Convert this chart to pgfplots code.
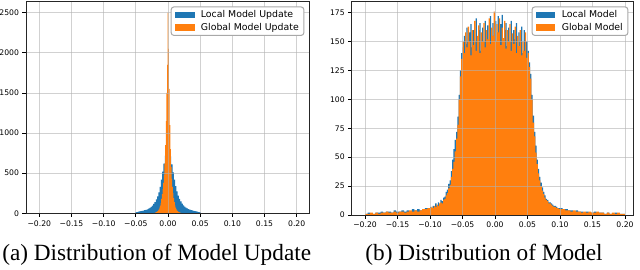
\documentclass[border=0pt]{standalone}
\usepackage{fontspec}
\setmainfont{Liberation Serif}
\setsansfont{DejaVu Sans}
\usepackage{pgfplots}
\pgfplotsset{compat=1.18}
\definecolor{tabblue}{HTML}{1F77B4}
\definecolor{taborange}{HTML}{FF7F0E}
\definecolor{legedge}{HTML}{A8A8A8}
\pgfplotsset{
  histstyle/.style={
    scale only axis,
    axis on top,
    ymin=0,
    xtick={-0.2,-0.15,-0.1,-0.05,0,0.05,0.1,0.15,0.2},
    xticklabels={−0.20,−0.15,−0.10,−0.05,0.00,0.05,0.10,0.15,0.20},
    tick align=outside,
    xtick pos=bottom, ytick pos=left,
    major tick length=3.5bp,
    tick style={black, line width=0.8bp},
    axis line style={black!85, line width=0.8bp},
    ticklabel style={font=\sffamily\fontsize{7.7}{9}\selectfont, text=black},
    grid=major,
    major grid style={black!30, opacity=0.6, line width=0.8bp},
    legend cell align=left,
    legend image code/.code={\fill[##1, sharp corners] (0bp,-3.2bp) rectangle (19.3bp,3.2bp);},
    legend style={at={(1,1)}, anchor=north east, xshift=-5bp, yshift=-5.5bp,
      draw=legedge, line width=1bp, rounded corners=2.5bp, fill=white,
      font=\sffamily\fontsize{9.4}{11}\selectfont, inner xsep=4bp, inner ysep=2.7bp,
      row sep=1.7bp, nodes={inner sep=1bp},
      /tikz/every odd column/.append style={column sep=5.4bp}},
  },
  bluehist/.style={const plot, draw=none, fill=tabblue},
  orangehist/.style={const plot, draw=none, fill=taborange},
}
\begin{document}
\begin{tikzpicture}
\useasboundingbox (0bp,0bp) rectangle (640bp,270bp);
% ---------------- (a) ----------------
\begin{axis}[histstyle,
  at={(26bp,56.7bp)}, anchor=south west,
  width=283.3bp, height=212.3bp,
  xmin=-0.2207, xmax=0.2196, ymax=2646,
  ytick={0,500,1000,1500,2000,2500},
  yticklabels={0,500,1000,1500,2000,2500},
]
\addplot[bluehist] coordinates {
(-0.053,2) (-0.051,10) (-0.049,15) (-0.047,20) (-0.045,23) (-0.043,28) (-0.041,30) (-0.039,33)
(-0.037,39) (-0.035,44) (-0.033,50) (-0.031,57) (-0.029,68) (-0.027,80) (-0.025,96) (-0.023,116)
(-0.021,140) (-0.019,172) (-0.017,210) (-0.015,262) (-0.013,330) (-0.011,420) (-0.009,520) (-0.007,620)
(-0.005,720) (-0.003,800) (-0.001,840) (0.001,790) (0.003,710) (0.005,610) (0.007,510) (0.009,420)
(0.011,340) (0.013,272) (0.015,220) (0.017,180) (0.019,148) (0.021,122) (0.023,100) (0.025,84)
(0.027,72) (0.029,62) (0.031,53) (0.033,46) (0.035,40) (0.037,35) (0.039,31) (0.041,27)
(0.043,24) (0.045,20) (0.047,16) (0.049,10) (0.051,2) (0.053,2)
} \closedcycle;
\addlegendentry{Local Model Update}
\addplot[orangehist] coordinates {
(-0.0205,7) (-0.0195,10) (-0.0185,14) (-0.0175,20) (-0.0165,28) (-0.0155,38) (-0.0145,50) (-0.0135,70)
(-0.0125,95) (-0.0115,130) (-0.0105,180) (-0.0095,240) (-0.0085,300) (-0.0075,380) (-0.0065,480) (-0.0055,620)
(-0.0045,850) (-0.0035,1150) (-0.0025,1500) (-0.0015,1850) (-0.0005,2500) (0.0005,2050) (0.0015,1550) (0.0025,1100)
(0.0035,800) (0.0045,580) (0.0055,430) (0.0065,330) (0.0075,250) (0.0085,190) (0.0095,140) (0.0105,100)
(0.0115,72) (0.0125,52) (0.0135,38) (0.0145,28) (0.0155,20) (0.0165,14) (0.0175,10) (0.0185,7)
(0.0195,5) (0.0205,5)
} \closedcycle;
\addlegendentry{Global Model Update}
\end{axis}
% ---------------- (b) ----------------
\begin{axis}[histstyle,
  at={(351.7bp,55bp)}, anchor=south west,
  width=281.6bp, height=214bp,
  xmin=-0.2205, xmax=0.2128, ymax=185.1,
  ytick={0,25,50,75,100,125,150,175},
  yticklabels={0,25,50,75,100,125,150,175},
]
\addplot[bluehist] coordinates {
(-0.200,1) (-0.196,2) (-0.192,1) (-0.188,1) (-0.184,2) (-0.180,2) (-0.176,3) (-0.172,2)
(-0.168,3) (-0.164,3) (-0.160,2) (-0.156,4) (-0.152,3) (-0.148,3) (-0.144,4) (-0.140,3)
(-0.136,4) (-0.132,3) (-0.128,5) (-0.124,4) (-0.120,5) (-0.116,4) (-0.112,5) (-0.108,6) (-0.104,6)
(-0.100,7) (-0.098,6) (-0.096,8) (-0.094,7) (-0.092,10) (-0.090,8) (-0.088,11) (-0.086,9)
(-0.084,13) (-0.082,12) (-0.080,15) (-0.078,16) (-0.076,20) (-0.074,22) (-0.072,27) (-0.070,30)
(-0.068,38) (-0.066,48) (-0.064,57) (-0.062,65) (-0.060,72) (-0.058,85) (-0.056,104) (-0.054,125)
(-0.052,140) (-0.050,145) (-0.048,155) (-0.046,148) (-0.044,162) (-0.042,150) (-0.040,158) (-0.038,165)
(-0.036,145) (-0.034,160) (-0.032,150) (-0.030,170) (-0.028,148) (-0.026,160) (-0.024,166) (-0.022,142)
(-0.020,162) (-0.018,150) (-0.016,168) (-0.014,145) (-0.012,164) (-0.010,150) (-0.008,172) (-0.006,148)
(-0.004,166) (-0.002,155) (0.000,168) (0.002,150) (0.004,172) (0.006,152) (0.008,165) (0.010,173)
(0.012,148) (0.014,160) (0.016,166) (0.018,146) (0.020,162) (0.022,150) (0.024,168) (0.026,145)
(0.028,160) (0.030,152) (0.032,166) (0.034,143) (0.036,158) (0.038,150) (0.040,163) (0.042,140)
(0.044,160) (0.046,145) (0.048,150) (0.050,142) (0.052,132) (0.054,122) (0.056,104) (0.058,86)
(0.060,72) (0.062,60) (0.064,48) (0.066,40) (0.068,33) (0.070,28) (0.072,24) (0.074,20)
(0.076,17) (0.078,14) (0.080,13) (0.082,11) (0.084,11) (0.086,10) (0.088,9) (0.090,8)
(0.092,8) (0.094,7) (0.096,6) (0.098,6)
(0.100,6) (0.104,5) (0.108,5) (0.112,4) (0.116,4) (0.120,3) (0.124,4) (0.128,3)
(0.132,3) (0.136,2) (0.140,3) (0.144,2) (0.148,2) (0.152,3) (0.156,2) (0.160,2)
(0.164,2) (0.168,1) (0.172,2) (0.176,1) (0.180,1) (0.184,2) (0.188,1) (0.192,1) (0.196,1) (0.200,1)
} \closedcycle;
\addlegendentry{Local Model}
\addplot[orangehist] coordinates {
(-0.200,1) (-0.196,1) (-0.192,2) (-0.188,1) (-0.184,2) (-0.180,1) (-0.176,2) (-0.172,2)
(-0.168,3) (-0.164,2) (-0.160,2) (-0.156,3) (-0.152,2) (-0.148,3) (-0.144,3) (-0.140,2)
(-0.136,3) (-0.132,4) (-0.128,3) (-0.124,4) (-0.120,3) (-0.116,4) (-0.112,5) (-0.108,5) (-0.104,6)
(-0.100,6) (-0.098,7) (-0.096,6) (-0.094,8) (-0.092,7) (-0.090,9) (-0.088,8) (-0.086,10)
(-0.084,11) (-0.082,10) (-0.080,13) (-0.078,14) (-0.076,17) (-0.074,19) (-0.072,23) (-0.070,26)
(-0.068,33) (-0.066,40) (-0.064,46) (-0.062,55) (-0.060,66) (-0.058,78) (-0.056,100) (-0.054,120)
(-0.052,135) (-0.050,150) (-0.048,140) (-0.046,158) (-0.044,145) (-0.042,163) (-0.040,150) (-0.038,138)
(-0.036,160) (-0.034,147) (-0.032,168) (-0.030,142) (-0.028,155) (-0.026,164) (-0.024,140) (-0.022,158)
(-0.020,150) (-0.018,166) (-0.016,145) (-0.014,160) (-0.012,152) (-0.010,170) (-0.008,148) (-0.006,162)
(-0.004,155) (-0.002,176) (0.000,150) (0.002,165) (0.004,158) (0.006,170) (0.008,147) (0.010,162)
(0.012,153) (0.014,168) (0.016,144) (0.018,160) (0.020,150) (0.022,165) (0.024,142) (0.026,157)
(0.028,148) (0.030,163) (0.032,140) (0.034,155) (0.036,146) (0.038,160) (0.040,138) (0.042,150)
(0.044,142) (0.046,158) (0.048,136) (0.050,140) (0.052,128) (0.054,118) (0.056,100) (0.058,80)
(0.060,68) (0.062,54) (0.064,44) (0.066,36) (0.068,30) (0.070,25) (0.072,21) (0.074,18)
(0.076,15) (0.078,13) (0.080,12) (0.082,10) (0.084,10) (0.086,9) (0.088,8) (0.090,7)
(0.092,7) (0.094,6) (0.096,6) (0.098,5)
(0.100,5) (0.104,5) (0.108,4) (0.112,4) (0.116,3) (0.120,4) (0.124,3) (0.128,3)
(0.132,2) (0.136,3) (0.140,2) (0.144,3) (0.148,2) (0.152,2) (0.156,3) (0.160,2)
(0.164,2) (0.168,1) (0.172,2) (0.176,1) (0.180,2) (0.184,1) (0.188,2) (0.192,1) (0.196,1) (0.200,1)
} \closedcycle;
\addlegendentry{Global Model}
\end{axis}
% captions
\node[anchor=base, inner sep=0, font=\fontsize{23.35}{28}\selectfont] at (156.7bp,10bp) {(a) Distribution of Model Update};
\node[anchor=base, inner sep=0, font=\fontsize{23.35}{28}\selectfont] at (484bp,10bp) {(b) Distribution of Model};
\end{tikzpicture}
\end{document}
